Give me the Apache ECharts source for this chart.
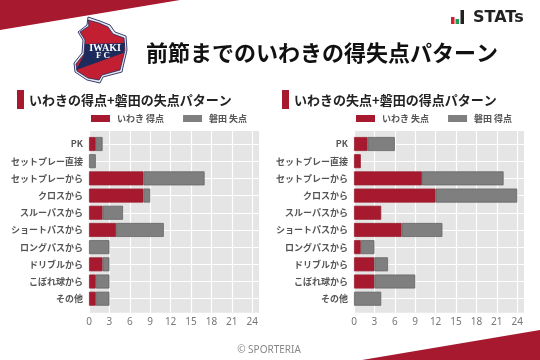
<!DOCTYPE html>
<html><head><meta charset="utf-8">
<style>html,body{margin:0;padding:0;background:#fff}#c{width:540px;height:360px}</style>
<script src="https://cdn.jsdelivr.net/npm/echarts@6/dist/echarts.min.js"></script>
</head><body><div id="c"></div>
<script>
const categories=['PK','セットプレー直接','セットプレーから','クロスから','スルーパスから','ショートパスから','ロングパスから','ドリブルから','こぼれ球から','その他'];
const iwakiFor=[1,0,8,8,2,4,0,2,1,1];
const iwataAgainst=[1,1,9,1,3,7,3,1,2,2];
const iwakiAgainst=[2,1,10,12,4,7,1,3,3,0];
const iwataFor=[4,0,12,12,0,6,2,2,6,4];
const ticks=[0,3,6,9,12,15,18,21,24];
const FONT='"Noto Sans CJK JP","Noto Sans",sans-serif';
const RED='#a6192e',GRAY='#7f7f7f';
const chart=echarts.init(document.getElementById('c'),null,{renderer:'canvas'});
// panel grids (0,1) carry the value scale's gridlines + labels; bar grids (2,3) sit inset, as the plot pads its rows
const panelTop=131,panelH=181.7,rowTop=135.4,rowH=171.9;
function panelX(i){return {type:'value',gridIndex:i,min:0,max:25,interval:3,
  axisLine:{show:false},axisTick:{show:false},
  axisLabel:{color:'#777',fontSize:10,fontFamily:'"Noto Sans",sans-serif',margin:4,showMaxLabel:false,
    formatter:v=>ticks.includes(v)?String(v):''},
  splitLine:{show:true,showMaxLine:false,lineStyle:{color:'#fff',width:1.2}}};}
function panelY(i){return {type:'value',gridIndex:i,min:0,max:1,show:false,splitLine:{show:false}};}
function rowX(i){return {type:'value',gridIndex:i,min:0,max:25,show:false,splitLine:{show:false}};}
function rowY(i){return {type:'category',gridIndex:i,data:categories,inverse:true,
  axisLine:{show:false},axisTick:{show:false},
  axisLabel:{color:'#555',fontSize:9,fontWeight:'bold',fontFamily:FONT,margin:6,interval:0},
  splitLine:{show:true,alignWithLabel:true,interval:0,lineStyle:{color:'#fff',width:1.2}}};}
function bar(name,data,i,color){return {type:'bar',name,data:data.map(v=>v===0?null:v),xAxisIndex:i,yAxisIndex:i,stack:'s'+i,barWidth:14,
  itemStyle:{color,borderColor:color===RED?'#9a2233':'#666',borderWidth:0.8},silent:true,animation:false};}
function legend(a,b,left){return {data:[a,b],left,top:114,padding:0,itemWidth:19,itemHeight:7,itemGap:19,icon:'rect',
  selectedMode:false,itemStyle:{borderWidth:0},
  textStyle:{fontSize:9,fontWeight:'bold',color:'#555',fontFamily:FONT,padding:[0,0,0,2]}};}
const logoOuter=[[88,17],[100,21],[110,25],[115,32],[126,36],[127,50],[123,67],[122,72],[103,77],[100,83],[87,80],[75,72],[74,63],[82,53],[83,40],[78,32],[87,25]];
const logoInner=[[88,20],[99,23],[108,27],[113,34],[124,38],[125,50],[121,66],[120,70],[102,75],[99,80],[88,78],[77,71],[76,64],[84,54],[85,40],[80,32],[89,26]];
const graphic=[
 {type:'polygon',shape:{points:[[0,0],[180,0],[0,30]]},style:{fill:RED},silent:true},
 {type:'polygon',shape:{points:[[362,360],[540,330],[540,360]]},style:{fill:RED},silent:true},
 {type:'polygon',shape:{points:logoOuter},style:{fill:'#e8e8f0',stroke:'#3a3f70',lineWidth:1},silent:true},
 {type:'polygon',shape:{points:logoInner},style:{fill:'#c21f32',stroke:'#1c2a5c',lineWidth:0.8},silent:true},
 {type:'polygon',shape:{points:[[85,44],[125,43],[123.5,53],[76,70],[84,55]]},style:{fill:'#1c2a5c'},silent:true},
 {type:'text',style:{x:105,y:48,text:'IWAKI',fill:'#fff',font:'bold 10px "Liberation Serif",serif',align:'center',verticalAlign:'middle'},silent:true},
 {type:'text',style:{x:103,y:56,text:'F C',fill:'#fff',font:'bold 9px "Liberation Serif",serif',align:'center',verticalAlign:'middle'},silent:true},
 {type:'text',style:{x:146,y:53,text:'前節までのいわきの得失点パターン',fill:'#111',font:'bold 22px "Noto Sans CJK JP",sans-serif',verticalAlign:'middle'},silent:true},
 {type:'rect',shape:{x:17,y:90,width:7,height:19},style:{fill:RED},silent:true},
 {type:'text',style:{x:29,y:100,text:'いわきの得点+磐田の失点パターン',fill:'#222',font:'bold 13px "Noto Sans CJK JP",sans-serif',verticalAlign:'middle'},silent:true},
 {type:'rect',shape:{x:282,y:90,width:7,height:19},style:{fill:RED},silent:true},
 {type:'text',style:{x:294,y:100,text:'いわきの失点+磐田の得点パターン',fill:'#222',font:'bold 13px "Noto Sans CJK JP",sans-serif',verticalAlign:'middle'},silent:true},
 {type:'rect',shape:{x:451,y:17,width:3.5,height:7},style:{fill:'#d81e2c'},silent:true},
 {type:'rect',shape:{x:455.5,y:19,width:3.5,height:5},style:{fill:'#1f9d55'},silent:true},
 {type:'rect',shape:{x:460.5,y:10,width:3.5,height:14},style:{fill:'#222'},silent:true},
 {type:'text',style:{x:473,y:17.5,text:'STATs',fill:'#222',font:'bold 16px "DejaVu Sans",sans-serif',verticalAlign:'middle'},silent:true},
 {type:'text',style:{x:269,y:350,text:'© SPORTERIA',fill:'#888',font:'10px "Noto Sans",sans-serif',align:'center',verticalAlign:'middle'},silent:true}
];
const emptyPanel=i=>({type:'bar',data:[],xAxisIndex:i,yAxisIndex:i});
chart.setOption({animation:false,backgroundColor:'#fff',
 graphic,
 legend:[legend('いわき 得点','磐田 失点',91),legend('いわき 失点','磐田 得点',356)],
 grid:[{left:89,top:panelTop,width:170,height:panelH,backgroundColor:'#e5e5e5',show:true,borderWidth:0},
       {left:354,top:panelTop,width:170,height:panelH,backgroundColor:'#e5e5e5',show:true,borderWidth:0},
       {left:89,top:rowTop,width:170,height:rowH},
       {left:354,top:rowTop,width:170,height:rowH}],
 xAxis:[panelX(0),panelX(1),rowX(2),rowX(3)],
 yAxis:[panelY(0),panelY(1),rowY(2),rowY(3)],
 series:[emptyPanel(0),emptyPanel(1),
         bar('いわき 得点',iwakiFor,2,RED),bar('磐田 失点',iwataAgainst,2,GRAY),
         bar('いわき 失点',iwakiAgainst,3,RED),bar('磐田 得点',iwataFor,3,GRAY)]
});
</script></body></html>
